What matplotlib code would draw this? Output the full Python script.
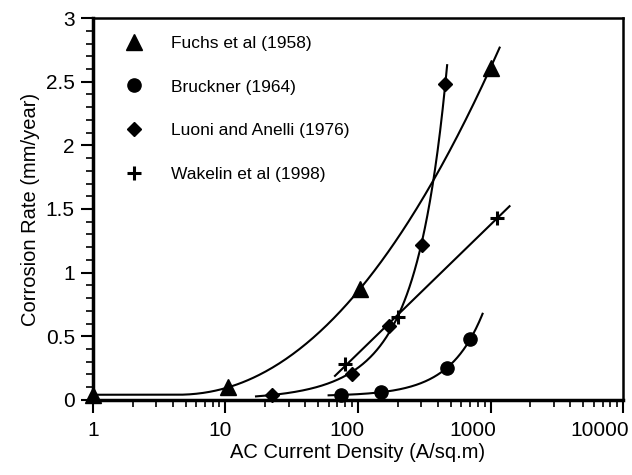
import numpy as np
import matplotlib
matplotlib.use("Agg")
import matplotlib.pyplot as plt
import matplotlib.transforms as mtransforms
from matplotlib.ticker import LogLocator, NullFormatter, MultipleLocator, FixedLocator, FixedFormatter

plt.rcParams['font.family'] = ['Liberation Sans', 'DejaVu Sans']

# ---- data ----
fuchs_x = [1, 10.5, 103, 1000]
fuchs_y = [0.04, 0.10, 0.87, 2.61]
fuchs_range = [1, 1170]

bruckner_x = [74, 150, 465, 705]
bruckner_y = [0.04, 0.06, 0.25, 0.48]
bruckner_range = [60, 870]

luoni_x = [22.5, 90, 170, 305, 456]
luoni_y = [0.04, 0.20, 0.58, 1.22, 2.48]
luoni_range = [17, 470]

wakelin_x = [80, 200, 1110]
wakelin_y = [0.28, 0.65, 1.43]
wakelin_range = [67, 1390]

labels = ["Fuchs et al (1958)", "Bruckner (1964)", "Luoni and Anelli (1976)", "Wakelin et al (1998)"]

x_ticks = [1, 10, 100, 1000, 10000]
x_tick_labels = ["1", "10", "100", "1000", "10000"]
y_ticks = [0, 0.5, 1, 1.5, 2, 2.5, 3]
y_tick_labels = ["0", "0.5", "1", "1.5", "2", "2.5", "3"]


def fit_power_offset(x, y):
    """Fit y = c + a*x^b (grid over b, linear LS for a, c)."""
    x = np.asarray(x, float); y = np.asarray(y, float)
    best = None
    for b in np.linspace(0.2, 3.0, 561):
        A = np.column_stack([np.ones_like(x), x ** b])
        coef, *_ = np.linalg.lstsq(A, y, rcond=None)
        r = np.sum((A @ coef - y) ** 2)
        if best is None or r < best[0]:
            best = (r, coef[0], coef[1], b)
    _, c, a, b = best
    return lambda t: c + a * t ** b


def fit_power_exp(x, y):
    """Fit y = a * x^b * exp(k*x) by least squares on log y."""
    x = np.asarray(x, float); y = np.asarray(y, float)
    A = np.column_stack([np.ones_like(x), np.log(x), x])
    coef, *_ = np.linalg.lstsq(A, np.log(y), rcond=None)
    return lambda t: np.exp(coef[0] + coef[1] * np.log(t) + coef[2] * t)


def fit_hinge(x, y):
    """Fit y = c + a*max(log10 x - u0, 0)^p (grid over u0 and p)."""
    u = np.log10(np.asarray(x, float)); y = np.asarray(y, float)
    best = None
    for p in np.linspace(1.2, 3.0, 37):
        for u0 in np.linspace(-0.5, 0.95, 146):
            A = np.column_stack([np.ones_like(u), np.clip(u - u0, 0, None) ** p])
            coef, *_ = np.linalg.lstsq(A, y, rcond=None)
            r = np.sum((A @ coef - y) ** 2)
            if best is None or r < best[0]:
                best = (r, coef[0], coef[1], u0, p)
    _, c, a, u0, p = best
    return lambda t: c + a * np.clip(np.log10(t) - u0, 0, None) ** p


def fit_loglinear(x, y):
    p = np.polyfit(np.log10(x), y, 1)
    return lambda t: np.polyval(p, np.log10(t))


fig = plt.figure(figsize=(6.32, 4.75), dpi=100)
ax = fig.add_axes([0.147, 0.158, 0.839, 0.804])

series = [
    (fuchs_x, fuchs_y, fuchs_range, fit_hinge(fuchs_x, fuchs_y), dict(marker='^', ms=11.5)),
    (bruckner_x, bruckner_y, bruckner_range, fit_power_offset(bruckner_x, bruckner_y), dict(marker='o', ms=9.5)),
    (luoni_x, luoni_y, luoni_range, fit_power_exp(luoni_x, luoni_y), dict(marker='D', ms=7)),
    (wakelin_x, wakelin_y, wakelin_range, fit_loglinear(wakelin_x, wakelin_y), dict(marker='+', ms=9.5, mew=2.2)),
]

handles = []
for (xs, ys, rng, f, mk), lab in zip(series, labels):
    t = np.logspace(np.log10(rng[0]), np.log10(rng[1]), 300)
    ax.plot(t, f(t), color='black', lw=1.5, clip_on=False, zorder=2)
    h, = ax.plot(xs, ys, linestyle='none', color='black', clip_on=False, zorder=3, label=lab, **mk)
    handles.append(h)

ax.set_xscale('log')
ax.set_xlim(1, 10000)
ax.set_ylim(0, 3)

ax.xaxis.set_major_locator(FixedLocator(x_ticks))
ax.xaxis.set_major_formatter(FixedFormatter(x_tick_labels))
ax.xaxis.set_minor_locator(LogLocator(base=10, subs=np.arange(2, 10), numticks=20))
ax.xaxis.set_minor_formatter(NullFormatter())
ax.yaxis.set_major_locator(FixedLocator(y_ticks))
ax.yaxis.set_major_formatter(FixedFormatter(y_tick_labels))
ax.yaxis.set_minor_locator(MultipleLocator(0.1))

ax.tick_params(which='major', direction='out', length=9, width=1.5, labelsize=15, pad=4)
ax.tick_params(which='minor', direction='out', length=5, width=1.2)
ax.tick_params(axis='x', which='major', pad=6)

# x tick labels sit right-aligned, just right of their tick
offset = mtransforms.ScaledTranslation(6 / 100, 0, fig.dpi_scale_trans)
for lbl in ax.get_xticklabels():
    lbl.set_horizontalalignment('right')
    lbl.set_transform(lbl.get_transform() + offset)

for side in ['left', 'bottom']:
    ax.spines[side].set_linewidth(2.5)
for side in ['top', 'right']:
    ax.spines[side].set_linewidth(1.8)

ax.set_xlabel("AC Current Density (A/sq.m)", fontsize=14.5, labelpad=2)
ax.set_ylabel("Corrosion Rate (mm/year)", fontsize=14.5, labelpad=4)

leg = ax.legend(handles=handles, loc='upper left', bbox_to_anchor=(0.035, 0.995), frameon=False,
                fontsize=12.5, labelspacing=1.65, handlelength=0.8, handletextpad=1.75,
                numpoints=1)

fig.savefig("out.png", dpi=100)
